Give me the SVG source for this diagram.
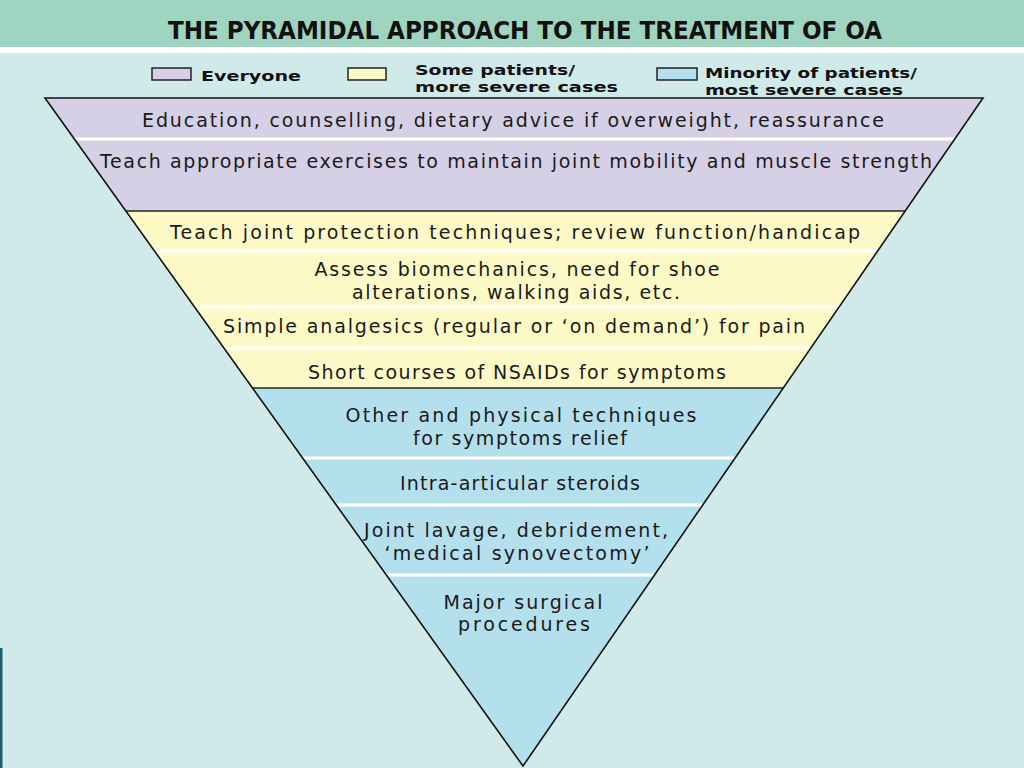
<svg xmlns="http://www.w3.org/2000/svg" width="1024" height="768" viewBox="0 0 1024 768">
<style>
.t{font-family:"DejaVu Sans","Liberation Sans",sans-serif;font-size:19px;fill:#1a1a1a;text-anchor:middle}
.lg{font-family:"DejaVu Sans Condensed","DejaVu Sans",sans-serif;font-weight:bold;font-size:14.5px;fill:#111}
.sep{stroke:#ffffff;stroke-width:3}
.dk{stroke:#222;stroke-width:1.5}
.box{stroke:#222;stroke-width:1.5}
</style>
<rect x="0" y="0" width="1024" height="768" fill="#d0eaea"/>
<rect x="0" y="0" width="1024" height="47" fill="#9fd4c0"/>
<rect x="0" y="47" width="1024" height="6" fill="#ffffff"/>
<rect x="0" y="648" width="2.5" height="120" fill="#1d5f6e"/>
<text x="525" y="39" font-family="DejaVu Sans Condensed,DejaVu Sans,sans-serif" font-weight="bold" font-size="24" fill="#111" text-anchor="middle" textLength="714" lengthAdjust="spacingAndGlyphs">THE PYRAMIDAL APPROACH TO THE TREATMENT OF OA</text>
<g id="legend">
<rect class="box" x="152" y="68" width="39" height="12" fill="#d6d0e6"/>
<text class="lg" x="201" y="81" textLength="100" lengthAdjust="spacingAndGlyphs">Everyone</text>
<rect class="box" x="348" y="68" width="38" height="12" fill="#fdfac8"/>
<text class="lg" x="415" y="75" textLength="160" lengthAdjust="spacingAndGlyphs">Some patients/</text>
<text class="lg" x="415" y="92" textLength="203" lengthAdjust="spacingAndGlyphs">more severe cases</text>
<rect class="box" x="657" y="68" width="40" height="12" fill="#b4dfec"/>
<text class="lg" x="705" y="78" textLength="212" lengthAdjust="spacingAndGlyphs">Minority of patients/</text>
<text class="lg" x="705" y="95" textLength="198" lengthAdjust="spacingAndGlyphs">most severe cases</text>
</g>
<g id="everyone">
<polygon points="45,98 983,98 905.2,211 125.9,211" fill="#d6d0e6"/>
<line class="sep" x1="74" y1="139" x2="955" y2="139"/>
<text class="t" x="513" y="127" textLength="742" lengthAdjust="spacing">Education, counselling, dietary advice if overweight, reassurance</text>
<text class="t" x="516" y="168" textLength="832" lengthAdjust="spacing">Teach appropriate exercises to maintain joint mobility and muscle strength</text>
</g>
<g id="some">
<polygon points="125.9,211 905.2,211 783.3,388 252.5,388" fill="#fdfac8"/>
<line class="sep" x1="154" y1="251" x2="878" y2="251"/>
<line class="sep" x1="194" y1="307" x2="840" y2="307"/>
<line class="sep" x1="223" y1="348" x2="811" y2="348"/>
<text class="t" x="515" y="239" textLength="690" lengthAdjust="spacing">Teach joint protection techniques; review function/handicap</text>
<text class="t" x="517" y="276" textLength="405" lengthAdjust="spacing">Assess biomechanics, need for shoe</text>
<text class="t" x="516" y="299" textLength="328" lengthAdjust="spacing">alterations, walking aids, etc.</text>
<text class="t" x="514" y="333" textLength="582" lengthAdjust="spacing">Simple analgesics (regular or ‘on demand’) for pain</text>
<text class="t" x="517" y="379" textLength="418" lengthAdjust="spacing">Short courses of NSAIDs for symptoms</text>
</g>
<g id="minority">
<polygon points="252.5,388 783.3,388 523,766" fill="#b4dfec"/>
<line class="sep" x1="302" y1="458" x2="736" y2="458"/>
<line class="sep" x1="336" y1="505" x2="703" y2="505"/>
<line class="sep" x1="386" y1="575" x2="655" y2="575"/>
<text class="t" x="521" y="422" textLength="351" lengthAdjust="spacing">Other and physical techniques</text>
<text class="t" x="520" y="445" textLength="214" lengthAdjust="spacing">for symptoms relief</text>
<text class="t" x="520" y="490" textLength="240" lengthAdjust="spacing">Intra-articular steroids</text>
<text class="t" x="516" y="537" textLength="304" lengthAdjust="spacing">Joint lavage, debridement,</text>
<text class="t" x="517" y="560" textLength="265" lengthAdjust="spacing">‘medical synovectomy’</text>
<text class="t" x="523" y="609" textLength="159" lengthAdjust="spacing">Major surgical</text>
<text class="t" x="524" y="631" textLength="132" lengthAdjust="spacing">procedures</text>
</g>
<g id="connectors">
<line class="dk" x1="125.9" y1="211" x2="905.2" y2="211"/>
<line class="dk" x1="252.5" y1="388" x2="783.3" y2="388"/>
<polygon points="45,98 983,98 523,766" fill="none" stroke="#111" stroke-width="1.6"/>
</g>
</svg>
